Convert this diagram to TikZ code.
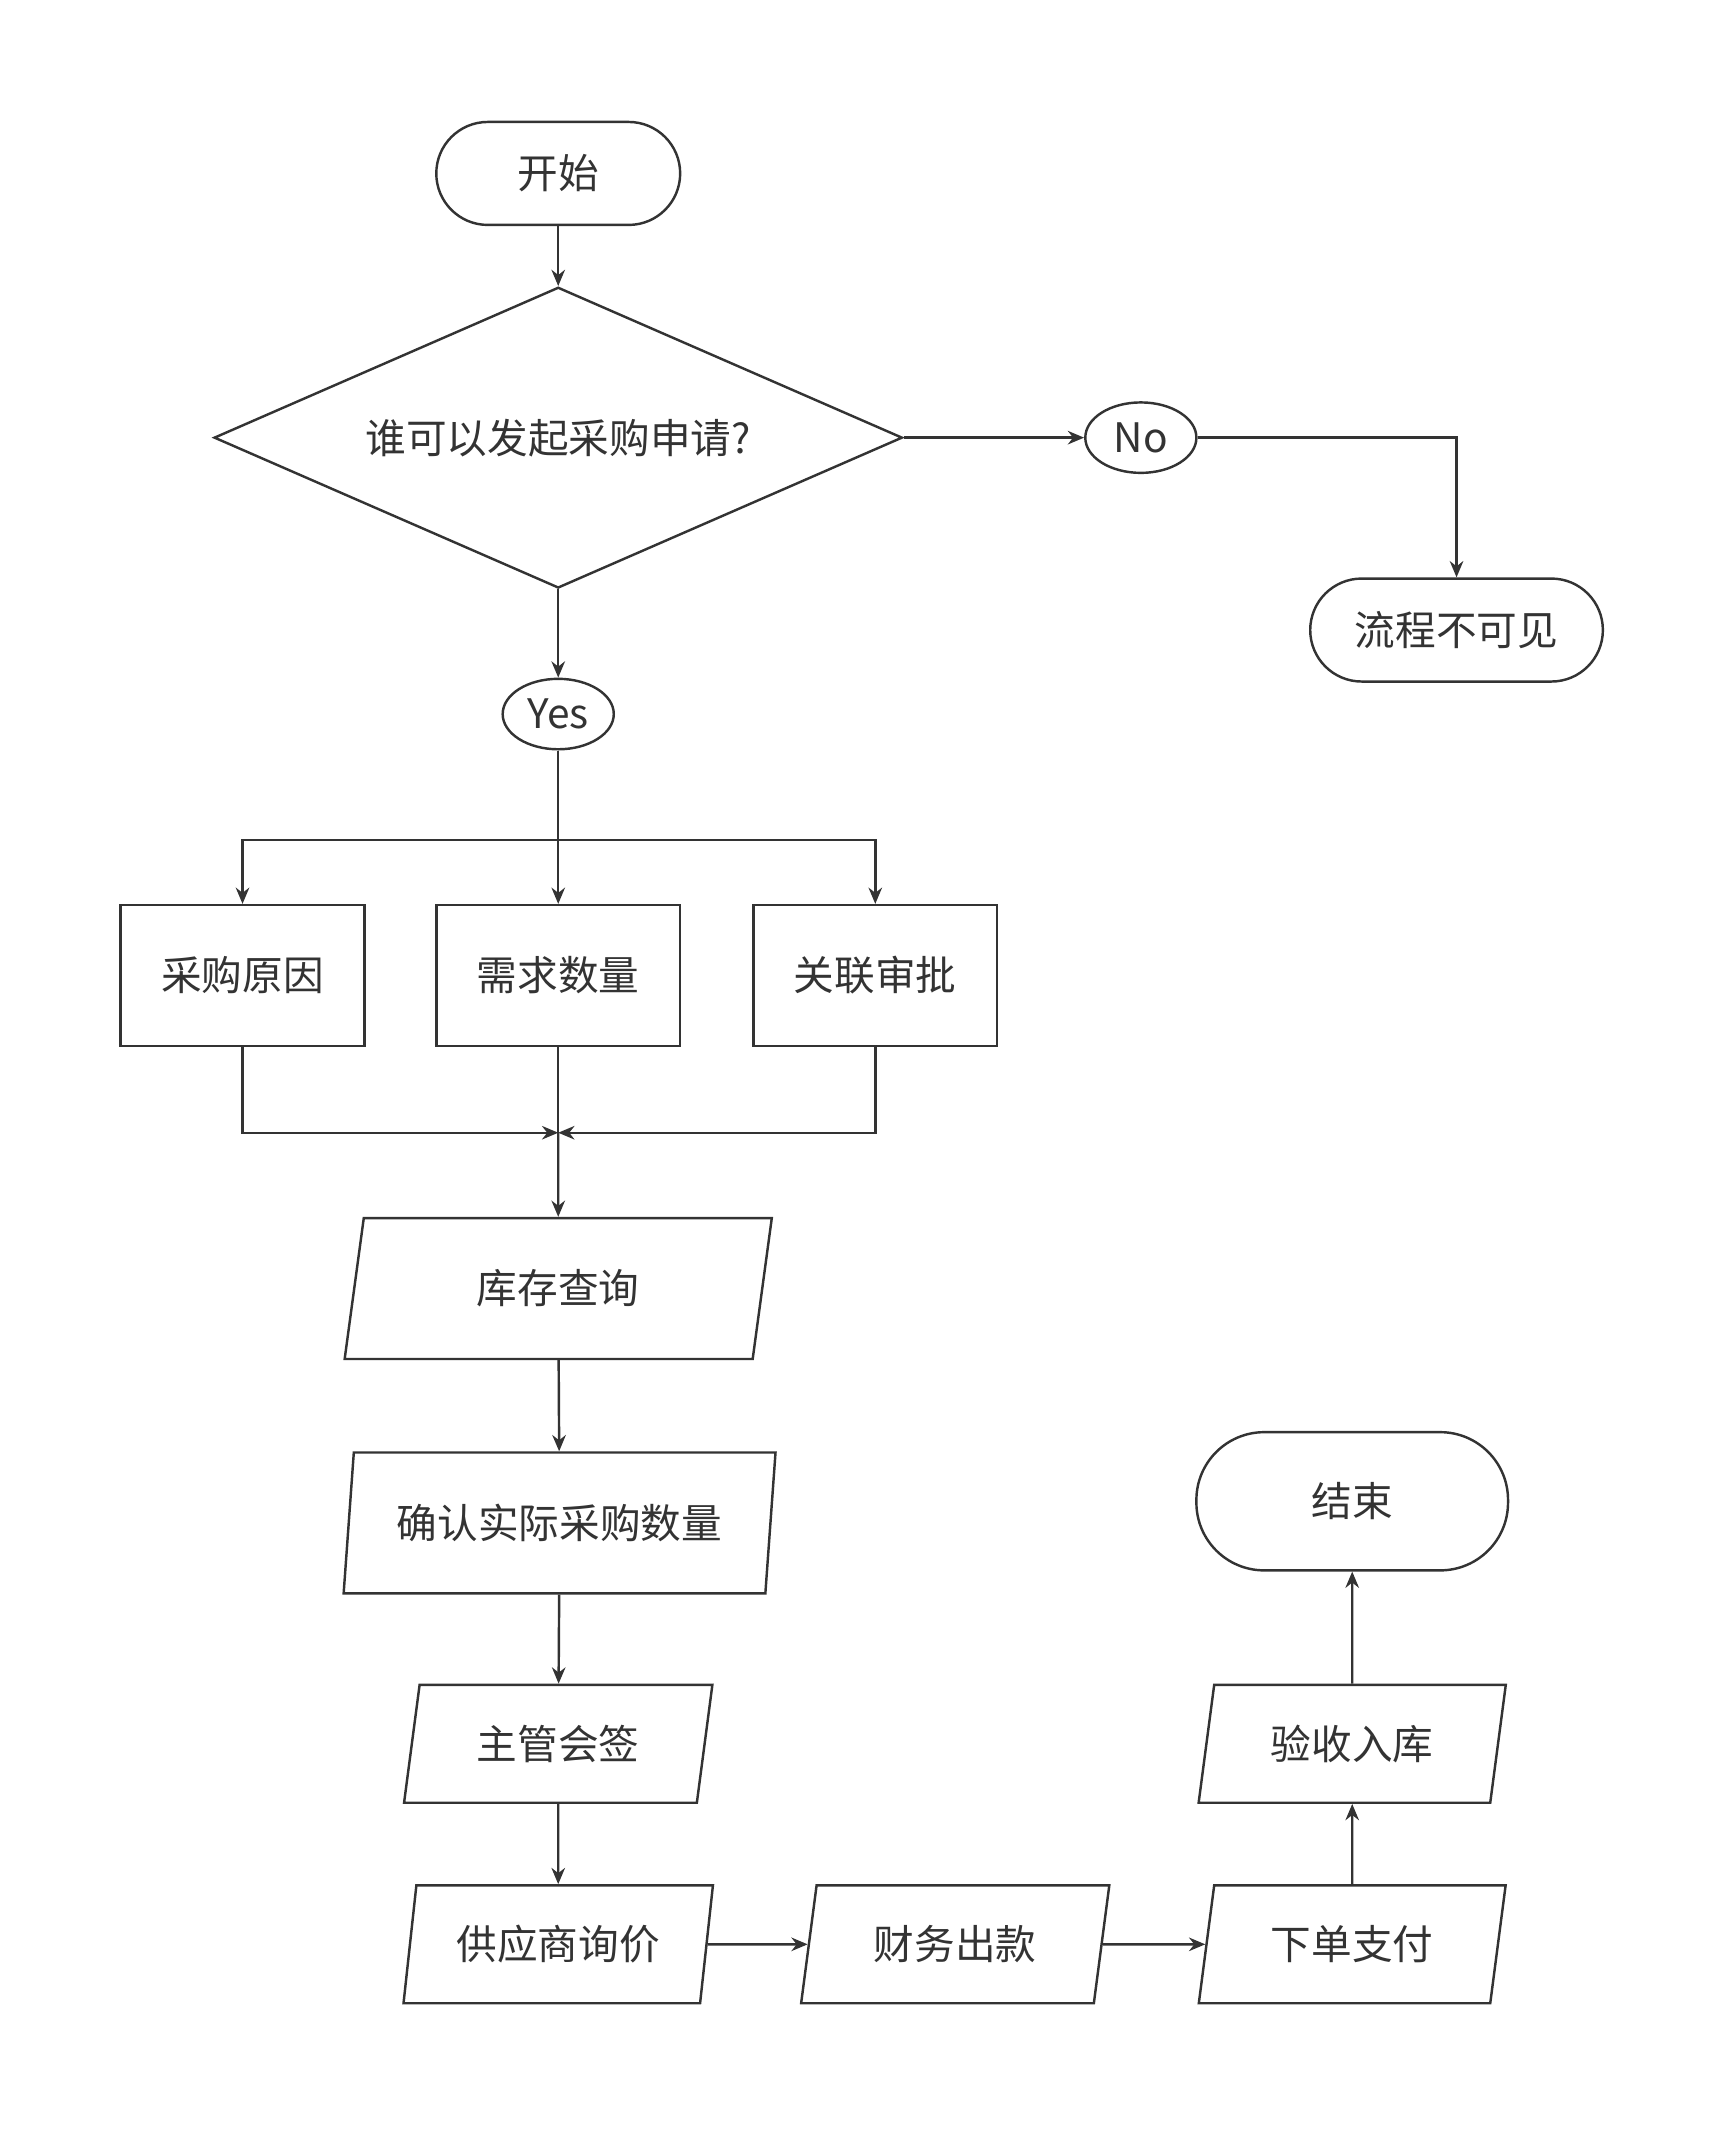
\documentclass[tikz,border=0pt]{standalone}
\usepackage{fontspec}
\setmainfont{Noto Sans CJK SC}
\usetikzlibrary{shapes.geometric,arrows.meta}
\definecolor{ln}{HTML}{333333}
\begin{document}
\begin{tikzpicture}[x=0.5pt,y=-0.5pt,
  every node/.style={draw=ln,line width=0.9pt,text=ln,font=\fontsize{15}{18}\selectfont,inner sep=0pt},
  term/.style={rounded corners=19pt},
  box/.style={rectangle,minimum width=90pt,minimum height=52pt},
  para/.style={trapezium,trapezium stretches=true,trapezium left angle=#1,trapezium right angle=180-#1},
  lbl/.style={ellipse,minimum width=41pt,minimum height=26pt},
  arr/.style={draw=ln,line width=0.9pt,-{Stealth[length=6pt,width=5pt]}},
  ln/.style={draw=ln,line width=0.9pt}]
\useasboundingbox (0,0) rectangle (1280,1575);
\node[term,minimum width=90pt,minimum height=38pt] (start) at (412,128) {开始};
\node[diamond,aspect=2.29,minimum width=254pt,minimum height=111pt,inner sep=0pt] (q) at (412,323) {谁可以发起采购申请?};
\node[lbl] (no) at (842,323) {No};
\node[term,minimum width=108pt,minimum height=38pt] (inv) at (1075,465) {流程不可见};
\node[lbl] (yes) at (412,527) {Yes};
\node[box] (b1) at (179,720) {采购原因};
\node[box] (b2) at (412,720) {需求数量};
\node[box] (b3) at (646,720) {关联审批};
\coordinate (m) at (412,836);
\node[para=78,minimum width=158.5pt,minimum height=52pt] (p1) at (412,951) {库存查询};
\node[para=78,minimum width=159.5pt,minimum height=52pt] (p2) at (413,1124) {确认实际采购数量};
\node[para=76.4,minimum width=114.5pt,minimum height=43.5pt] (p3) at (412,1287) {主管会签};
\node[para=76.4,minimum width=114.5pt,minimum height=43.5pt] (p4) at (412,1435) {供应商询价};
\node[para=76.4,minimum width=114.5pt,minimum height=43.5pt] (p5) at (705,1435) {财务出款};
\node[para=76.4,minimum width=114pt,minimum height=43.5pt] (p6) at (998,1435) {下单支付};
\node[para=76.4,minimum width=114pt,minimum height=43.5pt] (p7) at (998,1287) {验收入库};
\node[term,minimum width=115pt,minimum height=51pt,rounded corners=25pt] (end) at (998,1108) {结束};
\draw[arr] (start) -- (q.north);
\draw[arr] (q.east) -- (no);
\draw[arr] (no.east) -| (inv.north);
\draw[arr] (q.south) -- (yes);
\draw[arr] (yes) -- (b2);
\draw[arr] (412,620) -| (b1.north);
\draw[arr] (412,620) -| (b3.north);
\draw[arr] (b1.south) |- (m);
\draw[arr] (b3.south) |- (m);
\draw[ln] (b2.south) -- (m);
\draw[arr] (m) -- (p1.north);
\draw[arr] (p1) -- (p2);
\draw[arr] (p2) -- (p3);
\draw[arr] (p3) -- (p4);
\draw[arr] (p4) -- (p5);
\draw[arr] (p5) -- (p6);
\draw[arr] (p6) -- (p7);
\draw[arr] (p7) -- (end);
\end{tikzpicture}
\end{document}
